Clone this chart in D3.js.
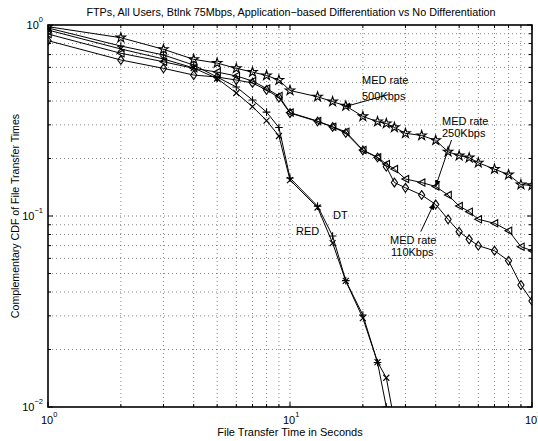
<!DOCTYPE html>
<html>
<head>
<meta charset="utf-8">
<script src="https://cdn.jsdelivr.net/npm/d3@7"></script>
<style>
  html, body { margin: 0; padding: 0; background: #fff; }
  svg { display: block; font-family: "Liberation Sans", Arial, Helvetica, sans-serif; }
</style>
</head>
<body>
<svg id="chart" width="538" height="441"></svg>
<script>
// File transfer times (seconds) at which the CCDF was sampled
const xMain = [1, 2, 3, 4, 5, 6, 7, 8, 9, 10, 13, 15, 17, 20, 23, 25, 27, 30, 35, 40, 45, 50, 55, 60, 70, 80, 90, 100];
const xTri  = [1, 2, 3, 4, 5, 6, 7, 8, 9, 10, 13, 15, 17, 20, 23, 25, 27, 30, 35, 40, 45, 50, 55, 60, 70, 80, 90, 100];
const xRed  = [1, 2, 3, 4, 5, 6, 7, 8, 9, 10, 13, 15, 17, 20, 23, 25];
const xDt   = [1, 2, 3, 4, 5, 6, 7, 8, 9, 10, 13, 15, 17, 20, 23, 25, 27];

// Complementary CDF values per scheme
const med500 = [0.980, 0.858, 0.746, 0.661, 0.632, 0.593, 0.567, 0.544, 0.515, 0.454, 0.421, 0.397, 0.377, 0.332, 0.312, 0.305, 0.291, 0.271, 0.264, 0.249, 0.217, 0.207, 0.202, 0.190, 0.176, 0.1645, 0.146, 0.1445];
const med250 = [0.897, 0.711, 0.642, 0.593, 0.567, 0.541, 0.509, 0.465, 0.425, 0.348, 0.314, 0.293, 0.276, 0.2216, 0.2029, 0.1872, 0.1762, 0.1562, 0.1497, 0.1427, 0.1288, 0.1128, 0.1053, 0.0961, 0.0916, 0.0838, 0.0691, 0.0658];
const med110 = [0.828, 0.656, 0.593, 0.547, 0.534, 0.515, 0.497, 0.457, 0.417, 0.346, 0.3125, 0.2924, 0.272, 0.2203, 0.2024, 0.1812, 0.1497, 0.1405, 0.1288, 0.1149, 0.0961, 0.0828, 0.0755, 0.0699, 0.0658, 0.0583, 0.0435, 0.0359];
const red    = [0.9645, 0.776, 0.697, 0.617, 0.534, 0.4735, 0.405, 0.350, 0.2905, 0.158, 0.1127, 0.0786, 0.0459, 0.0303, 0.0171, 0.0100];
const dt     = [0.9415, 0.749, 0.664, 0.5955, 0.5247, 0.4406, 0.3735, 0.316, 0.2623, 0.1543, 0.1108, 0.0722, 0.0457, 0.0292, 0.0172, 0.01423, 0.0084];

// Axis ticks (powers of ten) and their exponent labels
const xTicks = [1, 10, 100];
const xTickExp = ["0", "1", "2"];
const yTicks = [0.01, 0.1, 1];
const yTickExp = ["\u22122", "\u22121", "0"];

const titleText = "FTPs, All Users, Btlnk 75Mbps, Application\u2212based Differentiation vs No Differentiation";
const xLabel = "File Transfer Time in Seconds";
const yLabel = "Complementary CDF of File Transfer Times";

const svg = d3.select("#chart");
const pLeft = 48, pRight = 532, pTop = 25, pBottom = 407;

const x = d3.scaleLog().domain([1, 100]).range([pLeft, pRight]);
const y = d3.scaleLog().domain([0.01, 1]).range([pBottom, pTop]);

// minor grid positions: 1..9 x 10^k inside the domain
const xGrid = [];
[1, 10].forEach(b => { for (let k = 1; k <= 9; k++) xGrid.push(b * k); });
xGrid.push(100);
const yGrid = [];
[0.01, 0.1].forEach(b => { for (let k = 1; k <= 9; k++) yGrid.push(+(b * k).toPrecision(3)); });
yGrid.push(1);

const grid = svg.append("g").attr("class", "grid")
  .attr("stroke", "#666").attr("stroke-width", 0.8).attr("stroke-dasharray", "1,3");
grid.selectAll("line.gx").data(xGrid.filter(v => v > 1 && v < 100)).join("line")
  .attr("class", "gx")
  .attr("x1", d => x(d)).attr("x2", d => x(d)).attr("y1", pTop).attr("y2", pBottom);
grid.selectAll("line.gy").data(yGrid.filter(v => v > 0.01 && v < 1)).join("line")
  .attr("class", "gy")
  .attr("y1", d => y(d)).attr("y2", d => y(d)).attr("x1", pLeft).attr("x2", pRight);

// tick marks on all four sides, pointing inward
const tickG = svg.append("g").attr("stroke", "#000").attr("stroke-width", 1);
xGrid.forEach(v => {
  const len = xTicks.includes(v) ? 5 : 3;
  tickG.append("line").attr("x1", x(v)).attr("x2", x(v)).attr("y1", pBottom).attr("y2", pBottom - len);
  tickG.append("line").attr("x1", x(v)).attr("x2", x(v)).attr("y1", pTop).attr("y2", pTop + len);
});
yGrid.forEach(v => {
  const len = yTicks.includes(v) ? 5 : 3;
  tickG.append("line").attr("y1", y(v)).attr("y2", y(v)).attr("x1", pLeft).attr("x2", pLeft + len);
  tickG.append("line").attr("y1", y(v)).attr("y2", y(v)).attr("x1", pRight).attr("x2", pRight - len);
});

// clip region for the curves
const defs = svg.append("defs");
defs.append("clipPath").attr("id", "plotClip")
  .append("rect").attr("x", pLeft).attr("y", pTop).attr("width", pRight - pLeft).attr("height", pBottom - pTop);

const line = d3.line().x(d => x(d[0])).y(d => y(d[1]));

const series = [
  { xs: xMain, ys: med500, marker: "star" },
  { xs: xTri,  ys: med250, marker: "triLeft" },
  { xs: xMain, ys: med110, marker: "diamond" },
  { xs: xRed,  ys: red,    marker: "plus" },
  { xs: xDt,   ys: dt,     marker: "cross" }
];

const markerPath = {
  star: d3.symbol().type(d3.symbolStar).size(28)(),
  diamond: "M0,-4.4L3.1,0L0,4.4L-3.1,0Z",
  triLeft: "M-3.6,0L3.2,-3.6L3.2,3.6Z",
  plus: "M-3.8,0H3.8M0,-3.8V3.8",
  cross: "M-3,-3L3,3M-3,3L3,-3"
};

const plot = svg.append("g").attr("clip-path", "url(#plotClip)");
series.forEach(s => {
  const pts = s.xs.map((v, i) => [v, s.ys[i]]);
  plot.append("path").datum(pts).attr("d", line)
    .attr("fill", "none").attr("stroke", "#000").attr("stroke-width", 1);
  plot.selectAll(null).data(pts.filter(p => p[1] >= 0.01)).join("path")
    .attr("transform", p => `translate(${x(p[0])},${y(p[1])})`)
    .attr("d", markerPath[s.marker])
    .attr("fill", "none").attr("stroke", "#000").attr("stroke-width", 1.1);
});

// frame
svg.append("rect").attr("x", pLeft).attr("y", pTop).attr("width", pRight - pLeft).attr("height", pBottom - pTop)
  .attr("fill", "none").attr("stroke", "#000").attr("stroke-width", 1.6);

// tick labels with superscript exponents
const xl = svg.append("g").attr("font-size", 11).attr("fill", "#000");
xTicks.forEach((v, i) => {
  const t = xl.append("text").attr("x", x(v) - 7).attr("y", 424);
  t.append("tspan").text("10");
  t.append("tspan").attr("font-size", 7.5).attr("dy", -7).text(xTickExp[i]);
});
const yl = svg.append("g").attr("font-size", 11).attr("fill", "#000");
yTicks.forEach((v, i) => {
  const t = yl.append("text").attr("x", pLeft - 5).attr("y", y(v) + 4).attr("text-anchor", "end");
  t.append("tspan").text("10");
  t.append("tspan").attr("font-size", 7.5).attr("dy", -7).text(yTickExp[i]);
});

// title and axis labels
svg.append("text").attr("x", 291).attr("y", 16).attr("text-anchor", "middle")
  .attr("font-size", 10.8).text(titleText);
svg.append("text").attr("x", 290).attr("y", 436).attr("text-anchor", "middle")
  .attr("font-size", 11).text(xLabel);
svg.append("text").attr("transform", "translate(19,216) rotate(-90)").attr("text-anchor", "middle")
  .attr("font-size", 10.6).text(yLabel);

// in-plot annotations
const ann = svg.append("g").attr("font-size", 11).attr("fill", "#000");
ann.append("text").attr("x", 362).attr("y", 84).text("MED rate");
ann.append("text").attr("x", 362).attr("y", 100).text("500Kbps");
ann.append("text").attr("x", 442).attr("y", 125).text("MED rate");
ann.append("text").attr("x", 442).attr("y", 137).text("250Kbps");
ann.append("text").attr("x", 390).attr("y", 244).text("MED rate");
ann.append("text").attr("x", 391).attr("y", 256).text("110Kbps");
ann.append("text").attr("x", 333).attr("y", 219).text("DT");
ann.append("text").attr("x", 296).attr("y", 235).text("RED");

// annotation arrows, tail and head given in data coordinates
defs.append("marker").attr("id", "head").attr("viewBox", "0 0 10 10")
  .attr("refX", 9).attr("refY", 5).attr("markerWidth", 7).attr("markerHeight", 7)
  .attr("orient", "auto")
  .append("path").attr("d", "M0,1L10,5L0,9Z").attr("fill", "#000");
const arrows = [
  [[25.5, 0.432], [16.8, 0.373]],
  [[46.5, 0.25], [40, 0.143]],
  [[34.7, 0.0828], [39.4, 0.1165]]
];
const arrowG = svg.append("g");
arrows.forEach(a => {
  arrowG.append("line")
    .attr("x1", x(a[0][0])).attr("y1", y(a[0][1]))
    .attr("x2", x(a[1][0])).attr("y2", y(a[1][1]))
    .attr("stroke", "#000").attr("stroke-width", 1).attr("marker-end", "url(#head)");
});
</script>
</body>
</html>
